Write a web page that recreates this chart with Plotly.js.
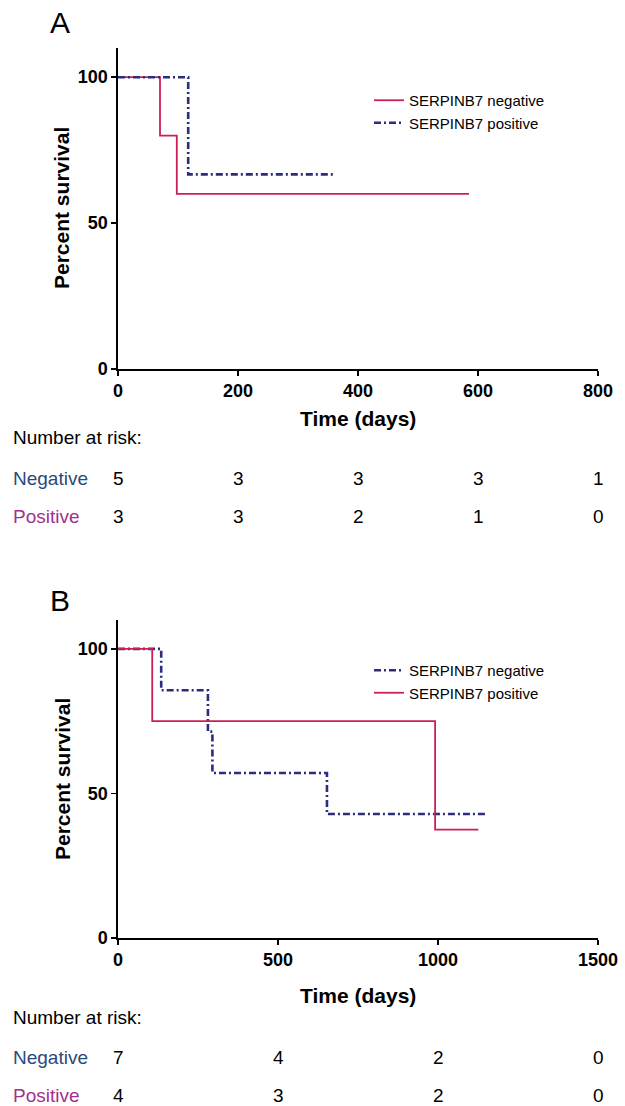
<!DOCTYPE html>
<html>
<head>
<meta charset="utf-8">
<script src="https://cdn.plot.ly/plotly-3.0.1.min.js"></script>
<style>
html,body{margin:0;padding:0;background:#fff;}
#chart{width:625px;height:1106px;}
</style>
</head>
<body>
<div id="chart"></div>
<script>
// ---------- Data ----------
// Panel A
const A_negTime = [0, 70, 98, 585];
const A_negSurv = [100, 80, 60, 60];
const A_posTime = [0, 117, 360];
const A_posSurv = [100, 66.7, 66.7];
const A_riskTimes = [0, 200, 400, 600, 800];
const A_riskNeg = [5, 3, 3, 3, 1];
const A_riskPos = [3, 3, 2, 1, 0];
const A_xticks = [0, 200, 400, 600, 800];

// Panel B
const B_negTime = [0, 135, 281, 295, 653, 1154];
const B_negSurv = [100, 85.7, 71.4, 57.1, 42.9, 42.9];
const B_posTime = [0, 107, 991, 1126];
const B_posSurv = [100, 75, 37.5, 37.5];
const B_riskTimes = [0, 500, 1000, 1500];
const B_riskNeg = [7, 4, 2, 0];
const B_riskPos = [4, 3, 2, 0];
const B_xticks = [0, 500, 1000, 1500];

const yticks = [0, 50, 100];
const seriesNames = ["SERPINB7 negative", "SERPINB7 positive"];
const rowLabels = ["Negative", "Positive"];

// ---------- Styles ----------
const RED = "#cc1f55";
const NAVY = "#2b2d7e";
const NEG_LABEL = "#2a4a7c";
const POS_LABEL = "#a2308e";
const FONT = "Liberation Sans, Arial, Helvetica, sans-serif";
const dashdot = "7px,3px,2px,3px";

const W = 625, H = 1106;
const px = v => v / W;
const py = v => 1 - v / H;

const traces = [
  {x: A_negTime, y: A_negSurv, name: seriesNames[0], mode: "lines", line: {shape: "hv", color: RED, width: 1.8}, xaxis: "x", yaxis: "y", legend: "legend"},
  {x: A_posTime, y: A_posSurv, name: seriesNames[1], mode: "lines", line: {shape: "hv", color: NAVY, width: 2.6, dash: dashdot}, xaxis: "x", yaxis: "y", legend: "legend"},
  {x: B_negTime, y: B_negSurv, name: seriesNames[0], mode: "lines", line: {shape: "hv", color: NAVY, width: 2.6, dash: dashdot}, xaxis: "x2", yaxis: "y2", legend: "legend2"},
  {x: B_posTime, y: B_posSurv, name: seriesNames[1], mode: "lines", line: {shape: "hv", color: RED, width: 1.8}, xaxis: "x2", yaxis: "y2", legend: "legend2"}
];

const axBase = {
  showline: true, linecolor: "#000", linewidth: 1.6,
  ticks: "outside", ticklen: 5, tickwidth: 1.6, tickcolor: "#000",
  showgrid: false, zeroline: false,
  tickfont: {family: FONT, size: 18, color: "#000", weight: "bold"},
  fixedrange: true
};

const annotations = [];
function txt(x, y, text, opts) {
  annotations.push(Object.assign({x: x, y: y, xref: "paper", yref: "paper", text: text, showarrow: false,
    font: {family: FONT, size: 19, color: "#000"}, xanchor: "center", yanchor: "middle"}, opts || {}));
}
// panel labels
txt(px(60), py(22), "A", {font: {family: FONT, size: 30, color: "#000"}});
txt(px(60), py(600), "B", {font: {family: FONT, size: 30, color: "#000"}});
// axis titles
[[208, 418], [779, 996]].forEach(([yc, xt]) => {
  txt(px(62), py(yc), "Percent survival", {textangle: -90, font: {family: FONT, size: 21, color: "#000", weight: "bold"}});
  txt(px(358), py(xt), "Time (days)", {font: {family: FONT, size: 21, color: "#000", weight: "bold"}});
});
// number at risk tables
function riskTable(yTitle, yNeg, yPos, times, neg, pos, xref) {
  txt(px(11), py(yTitle), "Number at risk:", {xanchor: "left"});
  txt(px(11), py(yNeg), rowLabels[0], {xanchor: "left", font: {family: FONT, size: 19, color: NEG_LABEL}});
  txt(px(11), py(yPos), rowLabels[1], {xanchor: "left", font: {family: FONT, size: 19, color: POS_LABEL}});
  times.forEach((t, i) => {
    annotations.push({x: t, xref: xref, y: py(yNeg), yref: "paper", text: String(neg[i]), showarrow: false,
      font: {family: FONT, size: 19, color: "#000"}, xanchor: "center", yanchor: "middle"});
    annotations.push({x: t, xref: xref, y: py(yPos), yref: "paper", text: String(pos[i]), showarrow: false,
      font: {family: FONT, size: 19, color: "#000"}, xanchor: "center", yanchor: "middle"});
  });
}
riskTable(438, 478, 517, A_riskTimes, A_riskNeg, A_riskPos, "x");
riskTable(1017, 1057, 1095, B_riskTimes, B_riskNeg, B_riskPos, "x2");

const legendBase = {
  xanchor: "left", yanchor: "top", bgcolor: "rgba(0,0,0,0)", borderwidth: 0,
  font: {family: FONT, size: 15, color: "#000"}, tracegroupgap: 0, itemwidth: 30
};

const layout = {
  width: W, height: H,
  margin: {l: 0, r: 0, t: 0, b: 0},
  paper_bgcolor: "#fff", plot_bgcolor: "#fff",
  font: {family: FONT},
  xaxis: Object.assign({}, axBase, {domain: [px(118), px(598)], range: [0, 800], tickvals: A_xticks, anchor: "y"}),
  yaxis: Object.assign({}, axBase, {domain: [py(369), py(48)], range: [0, 110], tickvals: yticks, anchor: "x"}),
  xaxis2: Object.assign({}, axBase, {domain: [px(118), px(598)], range: [0, 1500], tickvals: B_xticks, anchor: "y2"}),
  yaxis2: Object.assign({}, axBase, {domain: [py(938), py(620)], range: [0, 110], tickvals: yticks, anchor: "x2"}),
  legend: Object.assign({}, legendBase, {x: px(369), y: py(84)}),
  legend2: Object.assign({}, legendBase, {x: px(369), y: py(654)}),
  showlegend: true,
  annotations: annotations
};

Plotly.newPlot("chart", traces, layout, {displayModeBar: false, staticPlot: true});
</script>
</body>
</html>
